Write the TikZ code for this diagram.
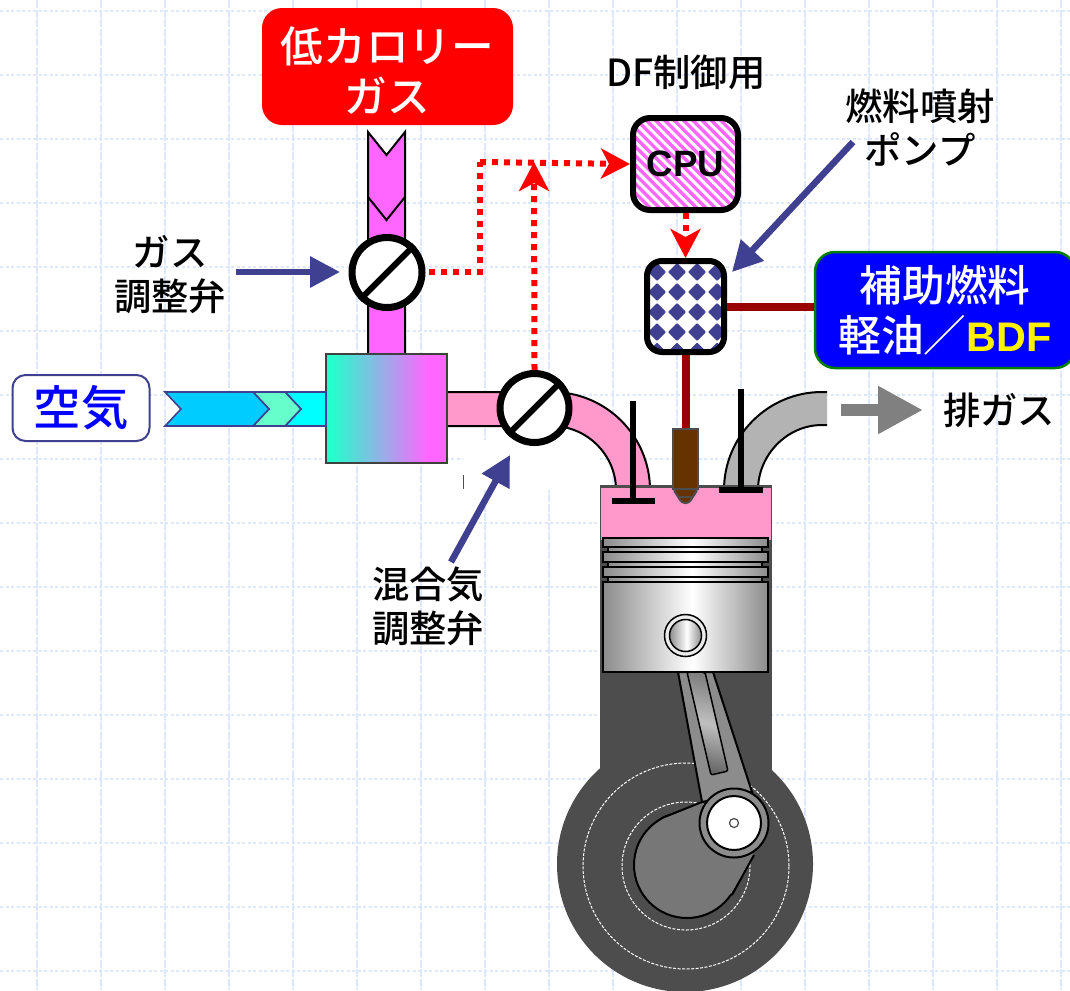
\documentclass[tikz,border=0pt]{standalone}
\usepackage{fontspec}
\setmainfont{Noto Sans CJK JP Medium}
\newfontfamily\arialf{Liberation Sans}
\usetikzlibrary{arrows.meta}
\newdimen\ppx \ppx=0.75pt
\definecolor{navyc}{HTML}{404090}
\definecolor{magc}{HTML}{FF66FF}
\definecolor{pinkc}{HTML}{FF99CC}
\definecolor{darkc}{HTML}{4D4D4D}
\definecolor{redrod}{HTML}{990000}
\definecolor{gridc}{HTML}{DFE7FC}
\definecolor{gasgray}{HTML}{B3B3B3}
\definecolor{rodgray}{HTML}{8C8C8C}
\definecolor{crankgray}{HTML}{777777}
\definecolor{greenc}{HTML}{22FFCC}
\definecolor{brownc}{HTML}{663300}
\definecolor{exhgray}{HTML}{808080}
\definecolor{purered}{HTML}{FF0000}
\definecolor{pureblue}{HTML}{0000FF}
\definecolor{boxgreen}{HTML}{008000}
\definecolor{mixedge}{HTML}{404040}
\definecolor{aircyan}{HTML}{00FFFF}
\definecolor{airmint}{HTML}{66FFCC}
\definecolor{airsky}{HTML}{00CCFF}
\pgfdeclarehorizontalshading{metalshade}{100bp}{color(0bp)=(rodgray);color(25bp)=(rodgray);color(52bp)=(white);color(75bp)=(rodgray);color(100bp)=(rodgray)}
\pgfdeclarehorizontalshading{mixshade}{100bp}{color(0bp)=(greenc);color(27bp)=(greenc);color(67bp)=(magc);color(75bp)=(magc);color(100bp)=(magc)}
\tikzset{
  labeltext/.style={font=\fontsize{28}{33.5}\selectfont,align=center,inner sep=0pt},
  valvenode/.style={circle,draw=black,fill=white,line width=7\ppx,inner sep=0pt},
  slashline/.style={line width=6\ppx,black},
  pipeline/.style={draw=black,line width=2\ppx},
  airpiece/.style={draw=navyc,line width=1.6\ppx,line join=miter},
  signalline/.style={purered,line width=6\ppx,dash pattern=on 6\ppx off 6\ppx,-{Stealth[length=21.75pt,width=22.5pt,inset=6pt]}},
  signalplain/.style={purered,line width=6\ppx,dash pattern=on 6\ppx off 6\ppx},
  pointerline/.style={navyc,line width=6.5\ppx,-{Triangle[length=22.5pt,width=22.5pt]}},
  fuelline/.style={redrod,line width=8\ppx},
  controlbox/.style={rectangle,rounded corners=15\ppx,draw=black,fill=white,line width=6\ppx,inner sep=0pt},
  metalpart/.style={shading=metalshade,draw=black,line width=2\ppx},
  stemline/.style={black,line width=6\ppx},
  whitedash/.style={draw=white,line width=1\ppx,dash pattern=on 3\ppx off 1.5\ppx},
}
\begin{document}
\begin{tikzpicture}[x=0.75pt,y=-0.75pt]
\useasboundingbox (0,0) rectangle (1070,990);
\clip (0,0) rectangle (1070,990);
\fill[white] (0,0) rectangle (1070,990);
% grid
\foreach \gx in {37,101,...,1061}
  \draw[gridc,line width=1.4\ppx,dash pattern=on 8\ppx off 1.5\ppx] (\gx,0) -- (\gx,990);
\foreach \gy in {11,75,...,971}
  \draw[gridc,line width=1.6\ppx,dash pattern=on 3\ppx off 2.5\ppx] (0,\gy) -- (1070,\gy);
\fill[white] (463,440) rectangle (600,490);
\draw[darkc,line width=1\ppx] (463,475) -- (463,489);

% gas pipe
\path[fill=magc] (368,132) -- (386.5,155) -- (405,132) -- (405,356) -- (368,356) -- cycle;
\draw[pipeline,miter limit=10] (368,356) -- (368,132) -- (386.5,155) -- (405,132) -- (405,356);
\draw[pipeline] (368,197) -- (386.5,220) -- (405,197);

% mixture pipe
\path[fill=pinkc] (447,392) -- (552,392) .. controls (606,392) and (650,436) .. (650,490) -- (616,490) .. controls (616,455) and (587,426) .. (552,426) -- (447,426) -- cycle;
\draw[pipeline] (447,392) -- (552,392) .. controls (606,392) and (650,436) .. (650,490);
\draw[pipeline] (447,426) -- (552,426) .. controls (587,426) and (616,455) .. (616,490);
% exhaust pipe
\path[fill=gasgray] (724,490) .. controls (724,436) and (768,392) .. (822,392) -- (827,392) -- (827,425) -- (822,425) .. controls (787,425) and (758,455) .. (758,490) -- cycle;
\draw[pipeline] (724,490) .. controls (724,436) and (768,392) .. (822,392) -- (827,392);
\draw[pipeline] (827,425) -- (822,425) .. controls (787,425) and (758,455) .. (758,490);

% engine body
\fill[darkc] (685,864) circle[radius=128\ppx];
\fill[darkc] (600,485) rectangle (772,800);
\fill[pinkc] (601,488) rectangle (771,540);

% valves stems
\draw[stemline] (633,401) -- (633,501);
\fill[black] (612,498) rectangle (655,504);
\draw[stemline] (741,389) -- (741,490);
\fill[black] (719,487) rectangle (763,493);

% piston
\foreach \ya/\yb in {547/553,562/568,577/582}
  \path[metalpart] (608,\ya) rectangle (762,\yb);
\foreach \ya/\yb in {538/547,552/562,567/577}
  \path[metalpart] (603,\ya) rectangle (768,\yb);

% crank
\draw[whitedash] (686,866) circle[radius=103\ppx];
\draw[whitedash] (686,866) circle[radius=64\ppx];
\draw[black,line width=2\ppx,fill=crankgray] (687,865) circle[radius=53\ppx];
\fill[crankgray] (662,819) -- (702,803) -- (754,855) -- (731,894) -- (687,865) -- cycle;
\draw[black,line width=2\ppx] (662,818) -- (702,802);
\draw[black,line width=2\ppx] (732,895) -- (754,855);
% connecting rod
\path[fill=rodgray,draw=black,line width=2\ppx] (678,672) -- (702,802) -- (752,792) -- (713,672) -- cycle;
\path[left color=gray,right color=gray!80!black,middle color=lightgray,shading angle=-14,draw=black,line width=1.5\ppx,rounded corners=2\ppx] (687,672) -- (711,775) -- (728,771) -- (705,672) -- cycle;
\draw[black,line width=2\ppx,fill=rodgray] (734,823) circle[radius=34.5\ppx];
\draw[black,line width=2\ppx,fill=white] (734,823) circle[radius=27\ppx];
\draw[black!70,line width=1.2\ppx,fill=white] (734,823) circle[radius=4.5\ppx];
% piston skirt and pin
\path[metalpart] (603,582) rectangle (768,672);
\draw[black,line width=1.5\ppx,fill=white!92!black] (685.5,635.5) circle[radius=21\ppx];
\path[shading=metalshade,draw=black,line width=1.5\ppx] (685.5,635.5) circle[radius=16\ppx];

% pump and CPU
\node[controlbox,minimum width=77\ppx,minimum height=91\ppx,path picture={
  \foreach \dx in {-28.5,-8.5,11.5,31.5}
    \foreach \dy in {-34.5,-14.5,5.5,25.5,45}
      \fill[navyc,rounded corners=1\ppx] (\dx-9,\dy) -- (\dx,\dy-9) -- (\dx+9,\dy) -- (\dx,\dy+9) -- cycle;
}] (pump) at (685.5,306.5) {};
\node[controlbox,rounded corners=17\ppx,minimum width=105\ppx,minimum height=92\ppx,path picture={
  \foreach \sx in {-14,-13,...,14}
    \draw[magc,line width=3.3\ppx] (\sx*9.3-60,-60) -- (\sx*9.3+60,60);
},font=\fontsize{27.5}{27.5}\selectfont\arialf\bfseries] (cpu) at (685.5,164) {CPU};

% injector
\node[rectangle,inner sep=0pt,minimum width=25\ppx,minimum height=60\ppx,draw=darkc,line width=2\ppx,fill=brownc] (injector) at (685.5,459) {};
\path[fill=brownc,draw=darkc,line width=2\ppx,rounded corners=3\ppx] (673,489) -- (682,503) -- (689,503) -- (698,489) -- cycle;
\draw[darkc,line width=2\ppx] (678,497) -- (693,497);

% supply box and fuel lines
\node[rectangle,rounded corners=20\ppx,draw=boxgreen,fill=pureblue,line width=2.5\ppx,minimum width=260\ppx,minimum height=116\ppx,inner sep=0pt,align=center,text=white,font=\fontsize{32}{37.5}\selectfont] (supply) at (945,310) {補助燃料\\軽油／{\arialf\bfseries\color{yellow}\fontsize{31}{37.5}\selectfont BDF}};
\coordinate (supplyin) at (supply.west|-pump.east);
\draw[fuelline] (pump.east) -- (supplyin);
\draw[fuelline] (pump.south) -- (injector.north);

% red source box
\node[rectangle,rounded corners=20\ppx,fill=purered,minimum width=251\ppx,minimum height=117\ppx,inner sep=0pt,align=center,text=white,font=\fontsize{32}{37}\selectfont] (lowgas) at (387.5,66.5) {\rule{0pt}{33pt}低カロリー\\ガス};

% mixer
\path[shading=mixshade,draw=mixedge,line width=2.5\ppx] (326,354) rectangle (447,463);

% air
\path[airpiece,fill=aircyan] (285,392) -- (326,392) -- (326,426) -- (285,426) -- (301,409) -- cycle;
\path[airpiece,fill=airmint] (253,392) -- (285,392) -- (301,409) -- (285,426) -- (253,426) -- (269,409) -- cycle;
\path[airpiece,fill=airsky] (165,392) -- (253,392) -- (269,409) -- (253,426) -- (165,426) -- (181,409) -- cycle;
\node[rectangle,rounded corners=13\ppx,draw=navyc,fill=white,line width=2\ppx,minimum width=137\ppx,minimum height=66\ppx,inner sep=0pt,text=pureblue,font=\fontsize{35.5}{40}\selectfont] (air) at (81,408) {空気};

% valves
\node[valvenode,minimum size=70\ppx] (gasvalve) at (387,272.5) {};
\draw[slashline] (gasvalve.225) -- (gasvalve.45);
\node[valvenode,minimum size=69\ppx] (mixvalve) at (534.5,408) {};
\draw[slashline] (mixvalve.225) -- (mixvalve.45);

% signal lines
\coordinate (sigstart) at (429,272);
\coordinate (sigcorner) at (480,272);
\coordinate (sigtop) at (480,162);
\coordinate (sigjoin) at (534,162);
\coordinate (cpuin) at (cpu.west);
\draw[signalplain] (sigstart) -- (sigcorner) -- (sigtop);
\draw[signalline] (sigtop) -- (cpuin);
\draw[signalline] (mixvalve.north) -- (sigjoin);
\draw[signalline] (cpu.south) -- (pump.north);

% labels
\node[labeltext] (dflabel) at (686,72) {DF制御用};
\node[labeltext] (pumplabel) at (920,127.5) {燃料噴射\\ポンプ};
\node[labeltext] (gaslabel) at (170,274.5) {ガス\\調整弁};
\node[labeltext] (mixlabel) at (428,606.5) {混合気\\調整弁};
\node[labeltext] (exhlabel) at (999,410) {排ガス};

% pointers
\coordinate (gasptr) at (236,272);
\coordinate (pumpptr) at (853,142);
\coordinate (mixptr) at (451,562);
\coordinate (mixtip) at (510,455);
\coordinate (pumptip) at (732,272);
\coordinate (gastip) at (340,272);
\draw[pointerline] (gasptr) -- (gastip);
\draw[pointerline] (pumpptr) -- (pumptip);
\draw[pointerline] (mixptr) -- (mixtip);
\coordinate (exhstart) at (841,410);
\coordinate (exhtip) at (923,410);
\draw[exhgray,line width=12\ppx,-{Triangle[length=33.75pt,width=33.75pt]}] (exhstart) -- (exhtip);
\end{tikzpicture}
\end{document}
